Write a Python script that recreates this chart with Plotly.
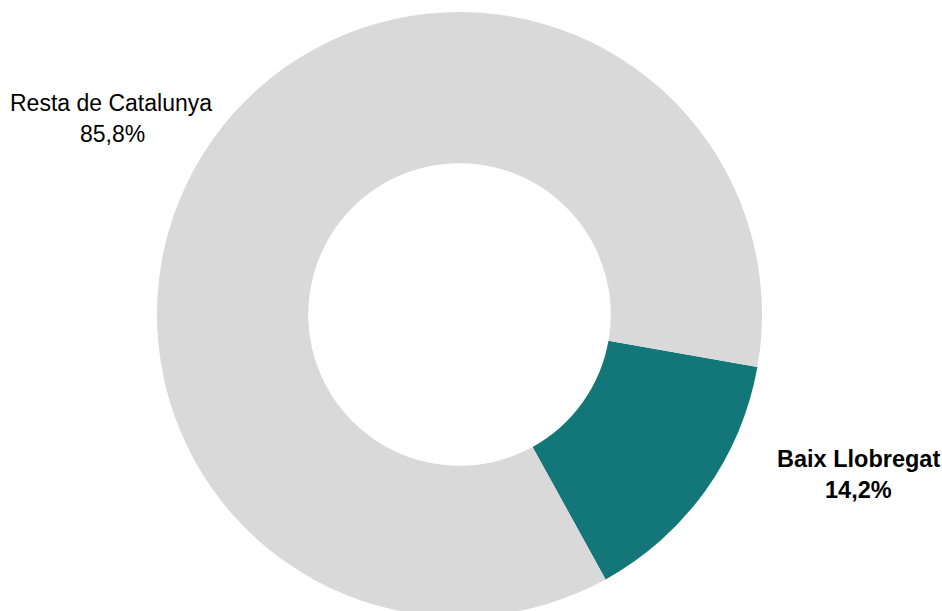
import plotly.graph_objects as go

labels = ["Baix Llobregat", "Resta de Catalunya"]
values = [14.2, 85.8]
value_text = ["14,2%", "85,8%"]
colors = ["#13777A", "#D9D9D9"]

W = 942
H = 617   # donut runs slightly past the bottom of the 611px view, as in the reference
TOP = 12

fig = go.Figure()
fig.add_trace(go.Pie(
    labels=labels,
    values=values,
    hole=0.5,
    sort=False,
    direction="clockwise",
    rotation=100,
    marker=dict(colors=colors, line=dict(width=0)),
    textinfo="none",
    hoverinfo="label+percent",
    showlegend=False,
    domain=dict(x=[0, 919 / W], y=[0, 1]),
))

FONT = "Liberation Sans, Arial, sans-serif"

def add_line(text, px, py, size, bold=False):
    t = f"<b>{text}</b>" if bold else text
    fig.add_annotation(
        x=px, y=H - py, xref="x", yref="y",
        text=t, showarrow=False, xanchor="center", yanchor="middle",
        font=dict(family=FONT, size=size, color="#000000"),
    )

# Resta de Catalunya label (two lines)
add_line(labels[1], 111, 103, 23)
add_line(value_text[1], 112, 134, 23)
# Baix Llobregat label (two lines, bold)
add_line(labels[0], 858, 459, 23.5, bold=True)
add_line(value_text[0], 858, 490, 23.5, bold=True)

fig.update_layout(
    width=W, height=H,
    margin=dict(l=0, r=0, t=TOP, b=0),
    paper_bgcolor="white", plot_bgcolor="white",
    xaxis=dict(range=[0, W], visible=False, domain=[0, 1], fixedrange=True),
    yaxis=dict(range=[0, H - TOP], visible=False, domain=[0, 1], fixedrange=True),
)

fig.write_html(
    "out.html",
    config={"displayModeBar": False},
    post_script=(
        "document.body.style.margin='0';"
        "document.body.style.overflow='hidden';"
        "document.documentElement.style.overflow='hidden';"
    ),
)
